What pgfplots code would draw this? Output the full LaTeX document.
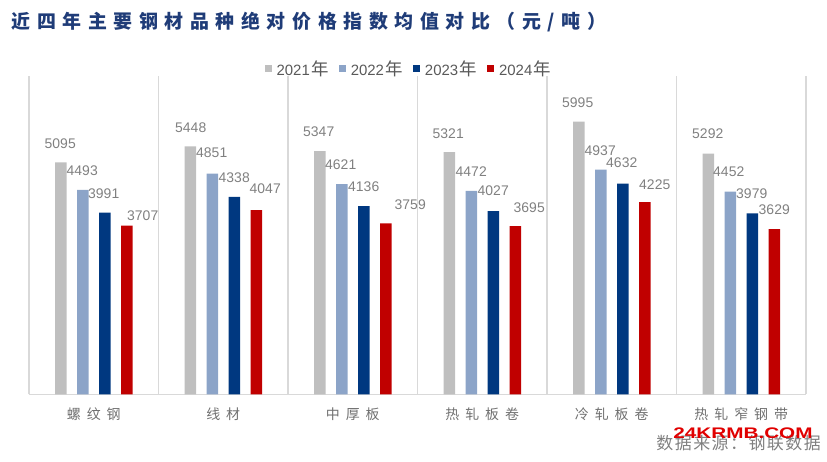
\documentclass[border=0pt]{standalone}
\usepackage{pgfplots}
\pgfplotsset{compat=1.18}
\usepackage{pgfplotstable}
\usepackage{graphicx}
\usepackage{fontspec}
\setmainfont{Liberation Sans}
\newfontfamily\cjk{Noto Sans CJK SC}
\definecolor{c21}{HTML}{BFBFBF}
\definecolor{c22}{HTML}{8CA4C8}
\definecolor{c23}{HTML}{003880}
\definecolor{c24}{HTML}{C00000}
\definecolor{cgrid}{HTML}{D9D9D9}
\definecolor{ctitle}{HTML}{1F3C78}
\definecolor{clab}{HTML}{808080}
\definecolor{cleg}{HTML}{595959}
\definecolor{ccat}{HTML}{707070}
\definecolor{cwm}{HTML}{E00000}

\def\spaced#1#2{\def\spacedamt{#1}\spacedfirst#2\relax}
\def\spacedfirst#1{#1\spacedrest}
\def\spacedrest#1{\ifx#1\relax\else\hspace{\spacedamt}#1\expandafter\spacedrest\fi}
\newcommand\nian{\hspace{1.5bp}{\cjk\fontsize{17.5}{17.5}\selectfont 年}}

\pgfplotstableread{
x y dx dy
0 5095 -0.5 19
1 5448 0.5 19
2 5347 -1 19
3 5321 -1 19
4 5995 -1 19
5 5292 -0.5 20
}\tA
\pgfplotstableread{
x y dx dy
0 4493 -0.5 19
1 4851 -0.5 21
2 4621 -1 19
3 4472 0 19
4 4937 -0.5 19
5 4452 -1.5 20
}\tB
\pgfplotstableread{
x y dx dy
0 3991 -1 19
1 4338 0 19
2 4136 0 19
3 4027 0 20
4 4632 -1 21
5 3979 -0.5 20
}\tC
\pgfplotstableread{
x y dx dy
0 3707 16 10
1 4047 9 21
2 3759 24.5 19
3 3695 14 18
4 4225 10 17
5 3629 0 19
}\tD

\pgfplotsset{
  sqlegend/.style={legend image code/.code={\fill[##1] (0bp,-3.5bp) rectangle (7bp,3.5bp);}},
  lab/.style={draw=none, sqlegend, nodes near coords, point meta=explicit symbolic,
    visualization depends on={\thisrow{dx} \as \labdx},
    visualization depends on={\thisrow{dy} \as \labdy},
    nodes near coords style={font=\fontsize{14}{14}\selectfont, text=clab, anchor=center, inner sep=0pt, xshift=\labdx bp, yshift=\labdy bp}},
}

\begin{document}
\begin{tikzpicture}
\path[use as bounding box] (0,0) rectangle (827bp,-462bp);
\begin{axis}[
  at={(29bp,-394.3bp)}, anchor=south west,
  width=777bp, height=318.5bp, scale only axis,
  xmin=-0.5, xmax=5.5, ymin=0, ymax=7000,
  ybar, bar width=11.5bp,
  axis x line*=bottom, axis y line=none,
  x axis line style={draw=cgrid, line width=1.4bp, -},
  ytick=\empty,
  xtick={0,...,5},
  xticklabels={螺\hspace{6bp}纹\hspace{6bp}钢, 线\hspace{6bp}材, 中\hspace{6bp}厚\hspace{6bp}板, 热\hspace{6bp}轧\hspace{6bp}板\hspace{6bp}卷, 冷\hspace{6bp}轧\hspace{6bp}板\hspace{6bp}卷, 热\hspace{6bp}轧\hspace{6bp}窄\hspace{6bp}钢\hspace{6bp}带},
  xticklabel style={font=\cjk\fontsize{14}{14}\selectfont, text=ccat, anchor=base, yshift=-25bp},
  major tick length=0pt, minor tick length=0pt,
  minor xtick={-0.5,0.5,...,5.5},
  xminorgrids, minor grid style={draw=cgrid, line width=1.4bp},
  clip=false,
  legend style={at={(0.489,1)}, anchor=south, yshift=-5bp, draw=none, fill=none,
    font=\fontsize{15}{15}\selectfont, text=cleg, legend columns=4,
    /tikz/every odd column/.append style={column sep=3bp},
    /tikz/every even column/.append style={column sep=8bp}},
  legend cell align=left,
]
\addplot[fill=c21, bar shift=-33bp, lab] table[x=x, y=y, meta=y] {\tA};
\addplot[fill=c22, bar shift=-11bp, lab] table[x=x, y=y, meta=y] {\tB};
\addplot[fill=c23, bar shift=11bp, lab] table[x=x, y=y, meta=y] {\tC};
\addplot[fill=c24, bar shift=33bp, lab] table[x=x, y=y, meta=y] {\tD};
\addlegendentry{2021\nian}
\addlegendentry{2022\nian}
\addlegendentry{2023\nian}
\addlegendentry{2024\nian}
\end{axis}
\node[anchor=base west, inner sep=0pt, text=ctitle, font=\cjk\bfseries\fontsize{19}{19}\selectfont] at (11.5bp,-28.7bp) {\spaced{6.6bp}{近四年主要钢材品种绝对价格指数均值对比（元/吨）}};
\node[anchor=base east, inner sep=0pt, text=clab, font=\cjk\fontsize{17}{17}\selectfont] at (821bp,-449.5bp) {\spaced{1.5bp}{数据来源：钢联数据}};
\node[inner sep=0pt, text=cwm, font=\bfseries\fontsize{15.4}{15.4}\selectfont] at (743bp,-433bp) {\scalebox{1.35}[1]{24KRMB.COM}};
\end{tikzpicture}
\end{document}
